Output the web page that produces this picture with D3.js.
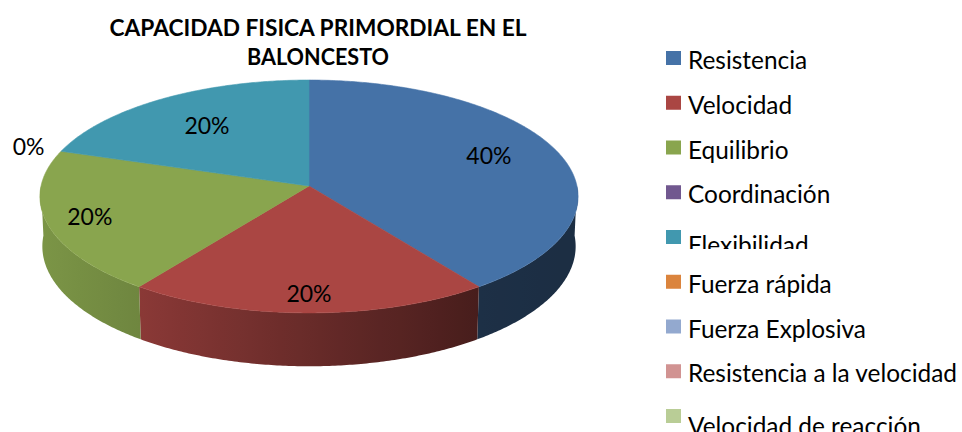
<!DOCTYPE html>
<html>
<head>
<meta charset="utf-8">
<script src="https://cdn.jsdelivr.net/npm/d3@7"></script>
<style>
  body { margin: 0; background: #fff; }
  svg { display: block; }
</style>
</head>
<body>
<svg id="chart" width="962" height="432"></svg>
<script>
// data
var categories = ["Resistencia", "Velocidad", "Equilibrio", "Coordinación", "Flexibilidad",
                  "Fuerza rápida", "Fuerza Explosiva", "Resistencia a la velocidad", "Velocidad de reacción"];
var values = [40, 20, 20, 0, 20, 0, 0, 0, 0];
var showLabel = [true, true, true, true, true, false, false, false, false];
var titleLines = ["CAPACIDAD FISICA PRIMORDIAL EN EL", "BALONCESTO"];
var colors = ["#4572A7", "#AA4643", "#89A54E", "#71588F", "#4198AF",
              "#DB843D", "#93A9CF", "#D19392", "#B9CD96"];

var svg = d3.select("#chart");
var defs = svg.append("defs");

//perspective settings for the 3d pie
var cx = 309, cy = 186;
var focal = 2685, radius = 0.0998, thick = 0.0207;
var cosE = 0.902, sinE = 0.431;

// angle is clockwise from 12 o'clock (same as d3.pie), r is 0..1 of the radius, h is height
function project(angle, r, h) {
    var X = r * radius * Math.sin(angle);
    var Z = -r * radius * Math.cos(angle);
    var depth = 1 - Z * cosE - h * sinE;
    return [cx + focal * X / depth, cy + focal * (Z * sinE - h * cosE) / depth];
}

function arcPoints(a0, a1, h) {
    var n = Math.max(2, Math.ceil(Math.abs(a1 - a0) / 0.01));
    return d3.range(n + 1).map(function (i) { return project(a0 + (a1 - a0) * i / n, 1, h); });
}

var line = d3.line();

var pie = d3.pie().sort(null).value(function (d) { return d; });
var slices = pie(values);

//side shading: darker to the right
var shade = d3.scaleLinear().domain([40, 140, 477, 578]).range([0.9, 0.81, 0.42, 0.40]).clamp(true);

slices.forEach(function (s, i) {
    var g = defs.append("linearGradient")
        .attr("id", "side" + i)
        .attr("gradientUnits", "userSpaceOnUse")
        .attr("x1", 40).attr("x2", 578).attr("y1", 0).attr("y2", 0);
    d3.range(40, 579, 20).forEach(function (x) {
        var c = d3.rgb(colors[i]);
        var k = shade(x);
        g.append("stop")
            .attr("offset", (x - 40) / 538)
            .attr("stop-color", d3.rgb(c.r * k, c.g * k, c.b * k).formatHex());
    });
});

var pieG = svg.append("g");

// outer walls, only the front half is visible
slices.forEach(function (s, i) {
    var a0 = Math.max(s.startAngle, Math.PI / 2);
    var a1 = Math.min(s.endAngle, Math.PI * 1.5);
    if (a1 <= a0) return;
    var top = arcPoints(a0, a1, 0);
    var bottom = arcPoints(a1, a0, -thick);
    pieG.append("path")
        .attr("d", line(top.concat(bottom)) + "Z")
        .attr("fill", "url(#side" + i + ")");
});

// top faces
slices.forEach(function (s, i) {
    if (s.endAngle - s.startAngle <= 0) return;
    var pts = [project(0, 0, 0)].concat(arcPoints(s.startAngle, s.endAngle, 0));
    pieG.append("path")
        .attr("d", line(pts) + "Z")
        .attr("fill", colors[i])
        .attr("stroke", colors[i])
        .attr("stroke-width", 0.6);
});

// data labels
var labelR = [0.72, 0.86, 0.84, 1.135, 0.68, 1.1, 1.1, 1.1, 1.1];
slices.forEach(function (s, i) {
    if (!showLabel[i]) return;
    var mid = (s.startAngle + s.endAngle) / 2;
    var p = project(mid, labelR[i], 0);
    pieG.append("text")
        .attr("x", p[0])
        .attr("y", p[1] - (i == 0 ? 5 : 0))
        .attr("dy", "0.36em")
        .attr("text-anchor", "middle")
        .style("font-family", "Lato, 'Open Sans', sans-serif")
        .style("font-size", "23px")
        .attr("fill", "#000")
        .text(d3.format(".0%")(s.value / 100));
});

// title
svg.append("g").selectAll("text")
    .data(titleLines)
    .enter().append("text")
        .attr("x", 318)
        .attr("y", function (d, i) { return 36 + i * 29; })
        .attr("text-anchor", "middle")
        .style("font-family", "Lato, sans-serif")
        .style("font-weight", "bold")
        .style("font-size", "22px")
        .attr("textLength", function (d, i) { return i == 0 ? 417 : 142; })
        .attr("lengthAdjust", "spacingAndGlyphs")
        .text(function (d) { return d; });

// legend (Flexibilidad and the last entry come out cut off in the original)
defs.append("clipPath").attr("id", "cutFlex")
    .append("rect").attr("x", 0).attr("y", 0).attr("width", 962).attr("height", 249);

var legendY = d3.scalePoint().domain(categories).range([51, 409]);

var items = svg.append("g").selectAll("g")
    .data(categories)
    .enter().append("g")
        .attr("clip-path", function (d) { return d == "Flexibilidad" ? "url(#cutFlex)" : null; });

items.append("rect")
    .attr("x", 666)
    .attr("y", function (d) { return legendY(d); })
    .attr("width", 15)
    .attr("height", 14)
    .attr("fill", function (d, i) { return colors[i]; });

items.append("text")
    .attr("x", 688)
    .attr("y", function (d, i) {
        var nudge = d == "Flexibilidad" ? 5.5 : (i == categories.length - 1 ? 7.5 : 0);
        return legendY(d) + 18 + nudge;
    })
    .style("font-family", "Lato, 'Open Sans', sans-serif")
    .style("font-size", "24.4px")
    .attr("fill", "#000")
    .text(function (d) { return d; });
</script>
</body>
</html>
